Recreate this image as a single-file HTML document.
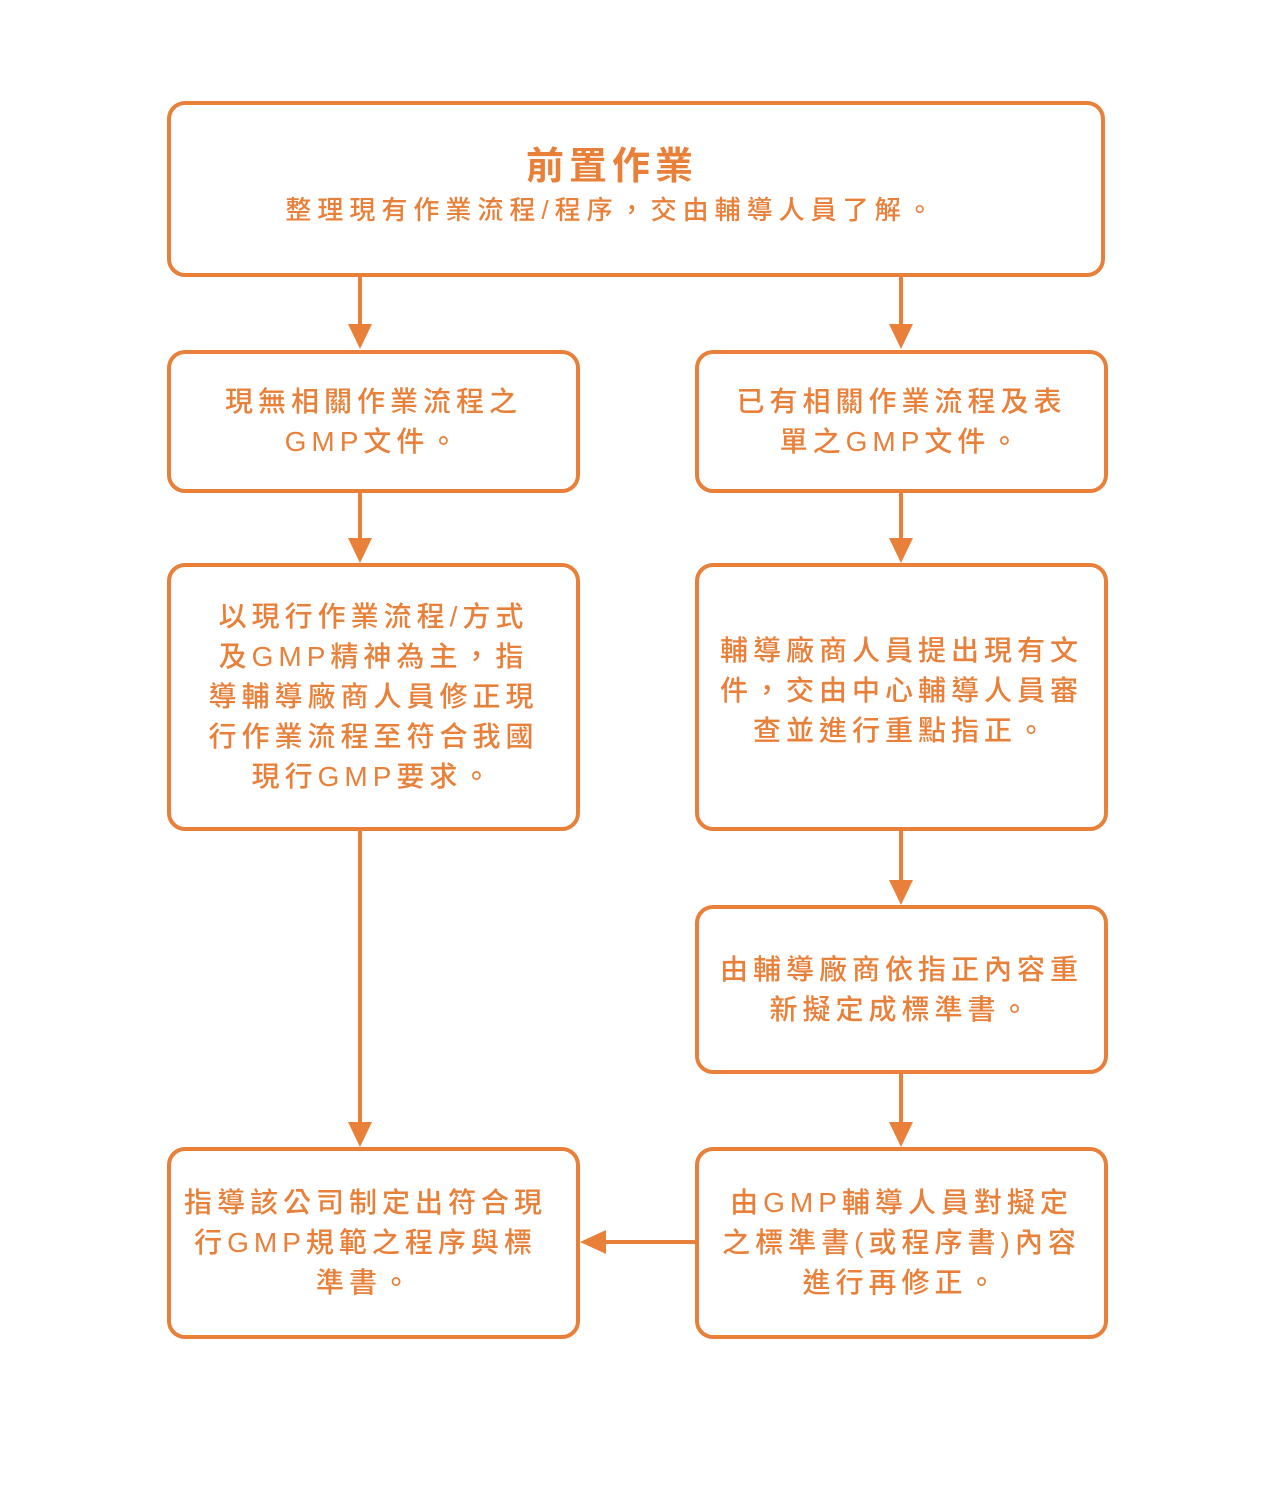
<!DOCTYPE html>
<html><head><meta charset="utf-8"><style>
body{margin:0;width:1280px;height:1494px;background:#fff;position:relative;font-family:"Liberation Sans","Noto Sans CJK TC",sans-serif;color:#E8803A;}
.b{position:absolute;box-sizing:border-box;border:4px solid #E8803A;border-radius:18px;display:flex;align-items:center;justify-content:center;text-align:center;font-size:28px;line-height:40px;letter-spacing:5px;font-weight:500;}
svg{position:absolute;left:0;top:0}
</style></head><body>
<svg width="1280" height="1494">
<g stroke="#E8803A" stroke-width="4" fill="none">
<line x1="360" y1="276" x2="360" y2="326"/>
<line x1="901" y1="276" x2="901" y2="326"/>
<line x1="360" y1="492" x2="360" y2="540"/>
<line x1="901" y1="492" x2="901" y2="540"/>
<line x1="901" y1="830" x2="901" y2="882"/>
<line x1="901" y1="1073" x2="901" y2="1124"/>
<line x1="360" y1="830" x2="360" y2="1124"/>
<line x1="696" y1="1242" x2="604" y2="1242"/>
</g>
<g fill="#E8803A">
<polygon points="348,324 372,324 360,349"/>
<polygon points="889,324 913,324 901,349"/>
<polygon points="348,538 372,538 360,563"/>
<polygon points="889,538 913,538 901,563"/>
<polygon points="889,880 913,880 901,905"/>
<polygon points="889,1122 913,1122 901,1147"/>
<polygon points="348,1122 372,1122 360,1147"/>
<polygon points="606,1230 606,1254 580,1242"/>
</g>
</svg>
<div class="b" style="left:167px;top:101px;width:938px;height:176px;padding-right:48px;padding-bottom:4px"><div><div style="font-size:38px;line-height:46px;font-weight:bold;letter-spacing:5px">前置作業</div><div style="font-size:26px;line-height:40px;letter-spacing:6px">整理現有作業流程/程序，交由輔導人員了解。</div></div></div>
<div class="b" style="left:167px;top:350px;width:413px;height:143px;"><div>現無相關作業流程之<br>GMP文件。</div></div>
<div class="b" style="left:695px;top:350px;width:413px;height:143px;"><div>已有相關作業流程及表<br>單之GMP文件。</div></div>
<div class="b" style="left:167px;top:563px;width:413px;height:268px;"><div>以現行作業流程/方式<br>及GMP精神為主，指<br>導輔導廠商人員修正現<br>行作業流程至符合我國<br>現行GMP要求。</div></div>
<div class="b" style="left:695px;top:563px;width:413px;height:268px;padding-bottom:12px"><div>輔導廠商人員提出現有文<br>件，交由中心輔導人員審<br>查並進行重點指正。</div></div>
<div class="b" style="left:695px;top:905px;width:413px;height:169px;"><div>由輔導廠商依指正內容重<br>新擬定成標準書。</div></div>
<div class="b" style="left:167px;top:1147px;width:413px;height:192px;padding-right:16px"><div>指導該公司制定出符合現<br>行GMP規範之程序與標<br>準書。</div></div>
<div class="b" style="left:695px;top:1147px;width:413px;height:192px;"><div>由GMP輔導人員對擬定<br>之標準書(或程序書)內容<br>進行再修正。</div></div>
</body></html>
